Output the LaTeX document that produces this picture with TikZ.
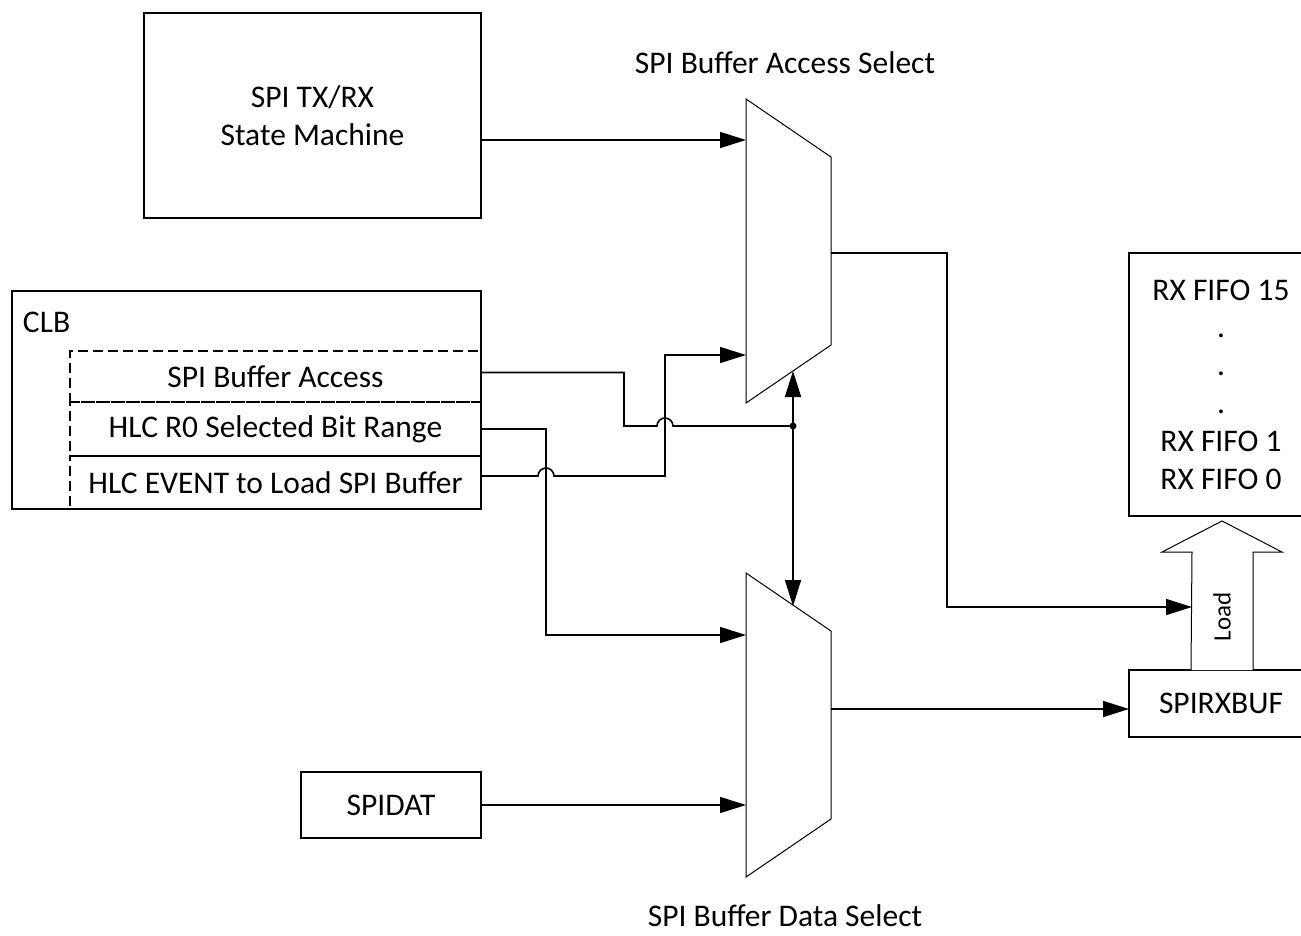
\documentclass[tikz,border=0pt]{standalone}
\usepackage{fontspec}
\setmainfont{Carlito}
\usetikzlibrary{arrows.meta,calc}
\begin{document}
\begin{tikzpicture}[x=1pt,y=-1pt,
  every node/.style={font=\fontsize{31.5}{37.8}\selectfont, inner sep=0pt, outer sep=0pt},
  box/.style={draw, line width=1.6pt, anchor=north west},
  rowbox/.style={draw, line width=1.6pt, dash pattern=on 10pt off 5pt, anchor=north west, minimum width=411pt},
  mux/.style={draw, line width=1pt},
  wire/.style={line width=1.6pt},
  arr/.style={line width=1.6pt, -{Triangle[length=26pt,width=16pt]}},
  darr/.style={line width=1.6pt, {Triangle[length=26pt,width=16pt]}-{Triangle[length=26pt,width=16pt]}},
  hollow/.style={draw, line width=1pt}
]
\useasboundingbox (0,0) rectangle (1301,935);
\clip (0,0) rectangle (1301,935);

% boxes
\node[box, minimum width=337pt, minimum height=205pt, align=center] (tx) at (144,13) {SPI TX/RX\\State Machine};

\node[rowbox, minimum height=51pt] (r1) at (70,351) {SPI Buffer Access};
\node[rowbox, minimum height=54pt] (r2) at (70,402) {HLC R0 Selected Bit Range};
\node[rowbox, minimum height=53pt] (r3) at (70,456) {HLC EVENT to Load SPI Buffer};
\node[box, minimum width=469pt, minimum height=218pt] (clb) at (12,291) {};
\node[anchor=west] (clbl) at (23,322) {CLB};

\node[box, minimum width=180pt, minimum height=66pt] (spidat) at (301,772) {SPIDAT};

\node[box, minimum width=184pt, minimum height=263pt, align=center] (fifo) at (1129,253) {RX FIFO 15\\.\\.\\.\\RX FIFO 1\\RX FIFO 0};
\node[box, minimum width=184pt, minimum height=67pt] (rxbuf) at (1129,670) {SPIRXBUF};

% muxes
\draw[mux] (746,99) -- (831,157) -- (831,345) -- (746,403) -- cycle;
\coordinate (m1i1) at (746,140);
\coordinate (m1i2) at (746,355);
\coordinate (m1s) at (793,371);
\coordinate (m1o) at (831,253);

\draw[mux] (746,573) -- (831,631) -- (831,819) -- (746,877) -- cycle;
\coordinate (m2i1) at (746,635);
\coordinate (m2i2) at (746,805);
\coordinate (m2s) at (793,606);
\coordinate (m2o) at (831,709);

\node (lab1) at (785,63) {SPI Buffer Access Select};
\node (lab2) at (785,916) {SPI Buffer Data Select};

% load arrow
\coordinate (ltip) at (1222,521);
\draw[hollow, fill=white] ($(rxbuf.north)+(-30,0)$) -- (1192,552) -- (1162,552) -- (ltip) -- (1282,552) -- (1253,552) -- ($(rxbuf.north)+(32,0)$);
\node[rotate=90, font=\fontsize{25}{30}\selectfont] (load) at (1222,617) {Load};
\coordinate (lin) at (1192,607);

% connectors
\coordinate (j1) at (793,426);
\draw[arr] (tx.east |- m1i1) -- (m1i1);
\draw[wire] ($(r1.east)+(0,-4)$) -- (624,372.5) -- (624,426) -- (657,426) arc(180:360:8) -- (j1);
\draw[arr] (r2.east) -- (546,429) -- (546,635) -- (m2i1);
\draw[arr] ($(r3.east)+(0,-6.5)$) -- (538,476) arc(180:360:8) -- (665,476) -- (665,355) -- (m1i2);
\draw[darr] (m1s) -- (m2s);
\fill (j1) circle (3.5);
\draw[arr] (m1o) -- (947,253) -- (947,607) -- (lin);
\draw[arr] (m2o) -- (rxbuf.west |- m2o);
\draw[arr] (spidat.east |- m2i2) -- (m2i2);
\end{tikzpicture}
\end{document}
